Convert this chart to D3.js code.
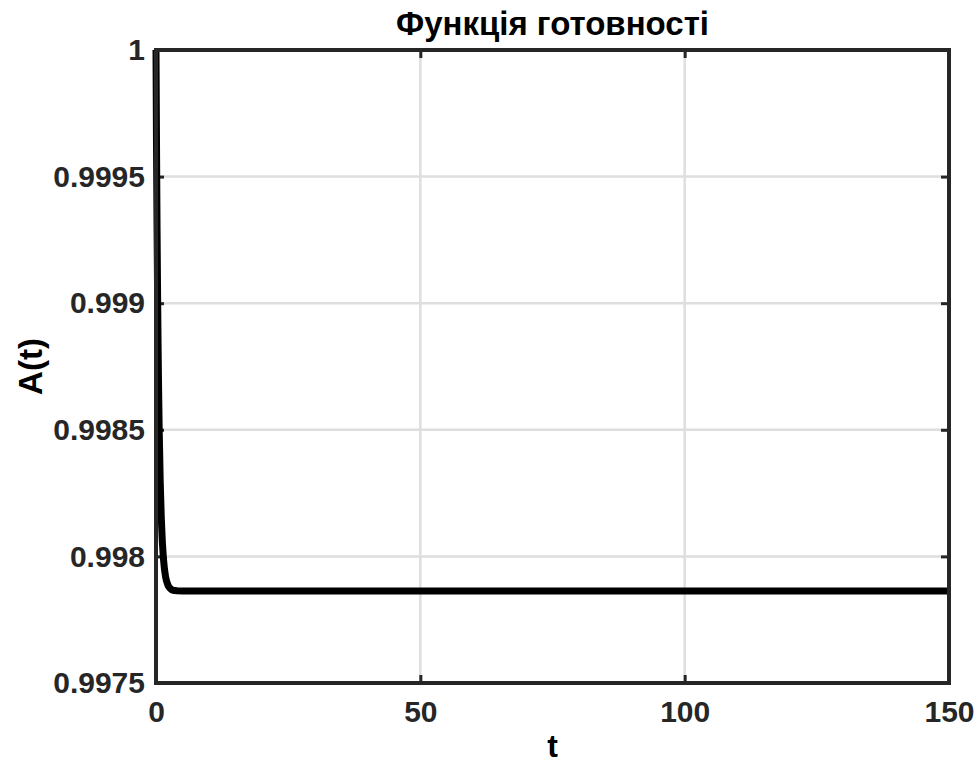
<!DOCTYPE html>
<html><head><meta charset="utf-8">
<script src="https://cdn.jsdelivr.net/npm/d3@7"></script>
<style>body{margin:0;background:#fff;} text{font-family:"Liberation Sans",Arial,sans-serif;font-weight:bold;}</style>
</head><body>
<svg id="c" width="978" height="765"></svg>
<script>
const title = "Функція готовності";
const xLabel = "t";
const yLabel = "A(t)";
const xTicks = [0, 50, 100, 150];
const yTicks = [0.9975, 0.998, 0.9985, 0.999, 0.9995, 1];
const yTickLabels = ["0.9975", "0.998", "0.9985", "0.999", "0.9995", "1"];
const tValues = [0, 0.1, 0.2, 0.3, 0.4, 0.5, 0.6, 0.8, 1.0, 1.2, 1.4, 1.6, 1.8, 2.0, 2.3, 2.6, 3.0, 3.5, 4.0, 5, 7, 10, 20, 50, 100, 150];
const aValues = [1.0, 0.999613, 0.999295, 0.999036, 0.998823, 0.998649, 0.998507, 0.998294, 0.998152, 0.998057, 0.997993, 0.997950, 0.997921, 0.997902, 0.997884, 0.997875, 0.997868, 0.997865, 0.997864, 0.997863, 0.997863, 0.997863, 0.997863, 0.997863, 0.997863, 0.997863];

const svg = d3.select("#c");
const L = 156, R = 949, T = 50, B = 683;
const x = d3.scaleLinear().domain([0, 150]).range([L, R]);
const y = d3.scaleLinear().domain([0.9975, 1]).range([B, T]);

// grid
svg.append("g").selectAll("line.gx").data(xTicks.slice(1, -1)).join("line")
  .attr("x1", d => x(d)).attr("x2", d => x(d)).attr("y1", T).attr("y2", B)
  .attr("stroke", "#dedede").attr("stroke-width", 2.5);
svg.append("g").selectAll("line.gy").data(yTicks.slice(1, -1)).join("line")
  .attr("y1", d => y(d)).attr("y2", d => y(d)).attr("x1", L).attr("x2", R)
  .attr("stroke", "#dedede").attr("stroke-width", 2.5);

// axes (ticks inward)
const fmtY = d => yTickLabels[yTicks.indexOf(d)];
const axB = svg.append("g").attr("transform", `translate(0,${B})`)
  .call(d3.axisBottom(x).tickValues(xTicks).tickSizeInner(-8).tickSizeOuter(0));
const axT = svg.append("g").attr("transform", `translate(0,${T})`)
  .call(d3.axisTop(x).tickValues(xTicks).tickSizeInner(-8).tickSizeOuter(0).tickFormat(""));
const axL = svg.append("g").attr("transform", `translate(${L},0)`)
  .call(d3.axisLeft(y).tickValues(yTicks).tickFormat(fmtY).tickSizeInner(-8).tickSizeOuter(0).tickPadding(11));
const axR = svg.append("g").attr("transform", `translate(${R},0)`)
  .call(d3.axisRight(y).tickValues(yTicks).tickSizeInner(-8).tickSizeOuter(0).tickFormat(""));
[axB, axT, axL, axR].forEach(a => {
  a.select(".domain").remove();
  a.selectAll(".tick line").attr("stroke", "#262626").attr("stroke-width", 3);
  a.selectAll("text").attr("font-size", 30).attr("fill", "#262626")
    .attr("font-family", "'Liberation Sans', Arial, sans-serif").attr("font-weight", "bold");
});
axB.selectAll("text").attr("dy", "0").attr("y", 39);

// data line
const line = d3.line().x((d, i) => x(tValues[i])).y(d => y(d));
svg.append("path").datum(aValues).attr("d", line)
  .attr("fill", "none").attr("stroke", "#000").attr("stroke-width", 7)
  .attr("stroke-linejoin", "round");

// frame
svg.append("rect").attr("x", L).attr("y", T).attr("width", R - L).attr("height", B - T)
  .attr("fill", "none").attr("stroke", "#262626").attr("stroke-width", 4);

// labels
svg.append("text").attr("x", (L + R) / 2).attr("y", 35).attr("text-anchor", "middle")
  .attr("font-size", 33).attr("fill", "#000").text(title);
svg.append("text").attr("x", (L + R) / 2).attr("y", 757).attr("text-anchor", "middle")
  .attr("font-size", 32).attr("fill", "#000").text(xLabel);
svg.append("text").attr("transform", `translate(42,${(T + B) / 2}) rotate(-90)`)
  .attr("text-anchor", "middle").attr("font-size", 33).attr("fill", "#000").text(yLabel);
</script>
</body></html>
